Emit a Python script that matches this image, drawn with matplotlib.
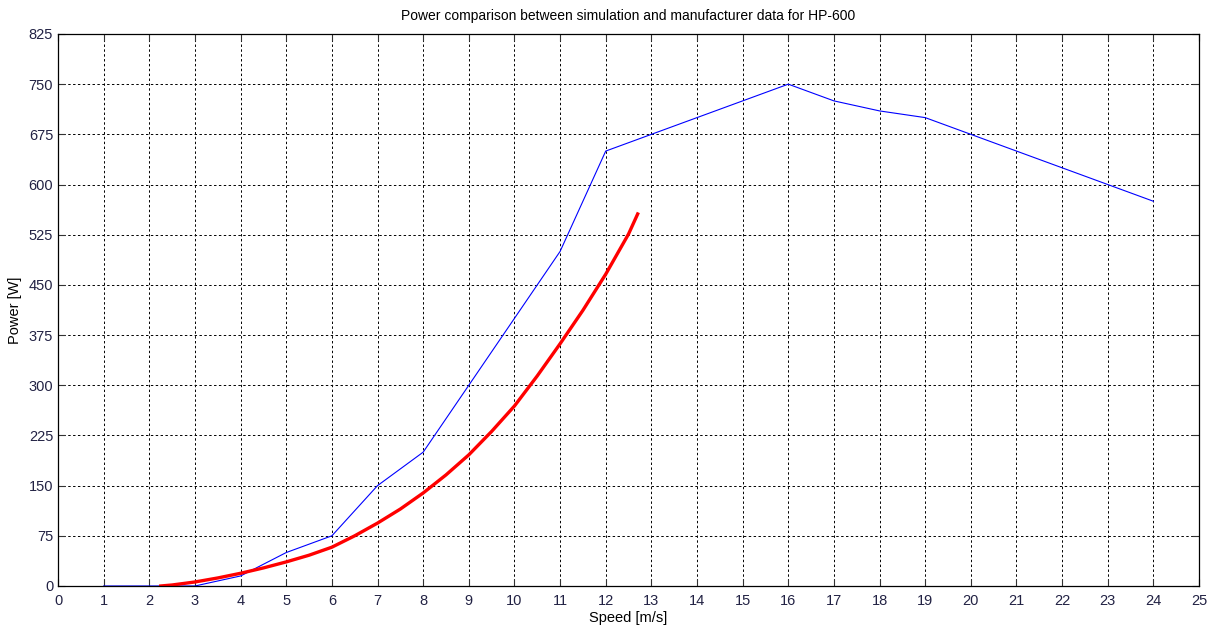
import numpy as np
import matplotlib
matplotlib.use('Agg')
import matplotlib.pyplot as plt

# Dados do fabricante (HP-600)
vel_fab = [1, 2, 3, 4, 5, 6, 7, 8, 9, 10, 11, 12, 13, 14, 15, 16, 17, 18, 19, 20, 21, 22, 23, 24]
pot_fab = [0, 0, 0, 15, 50, 75, 150, 200, 300, 400, 500, 650, 675, 700, 725, 750, 725, 710, 700, 675, 650, 625, 600, 575]

# Dados da simulacao
vel_sim = [2.25, 2.5, 3, 3.5, 4, 4.5, 5, 5.5, 6, 6.5, 7, 7.5, 8, 8.5, 9, 9.5, 10, 10.5, 11, 11.5, 12, 12.5, 12.7]
pot_sim = [0, 1.5, 6, 12, 19, 27, 36, 46, 58, 75, 94, 115, 139, 166, 196, 231, 269, 314, 362, 412, 466, 526, 556]

x_ticks = np.arange(0, 26, 1)
y_ticks = np.arange(0, 826, 75)

plt.rcParams['font.family'] = ['Liberation Sans', 'DejaVu Sans']
plt.rcParams['font.size'] = 10.5

fig = plt.figure(figsize=(12.12, 6.28), dpi=100)
ax = fig.add_axes([0.0479, 0.0669, 0.9414, 0.879])

ax.plot(vel_fab, pot_fab, color='blue', linewidth=0.8)
ax.plot(vel_sim, pot_sim, color='red', linewidth=2.4)

ax.set_xlim(0, 25)
ax.set_ylim(0, 825)
ax.set_xticks(x_ticks)
ax.set_yticks(y_ticks)
ax.tick_params(direction='in', length=5, width=0.8, top=True, right=True, colors='#333333', labelcolor='#222244')
ax.tick_params(axis='x', pad=6)
ax.grid(True, color='black', linestyle=(0, (2.5, 2.5)), linewidth=0.7)
for s in ax.spines.values():
    s.set_linewidth(0.9)

ax.set_title('Power comparison between simulation and manufacturer data for HP-600', fontsize=10, pad=10)
ax.set_xlabel('Speed [m/s]', labelpad=2)
ax.set_ylabel('Power [W]', labelpad=5)

fig.savefig('out.png', dpi=100)
